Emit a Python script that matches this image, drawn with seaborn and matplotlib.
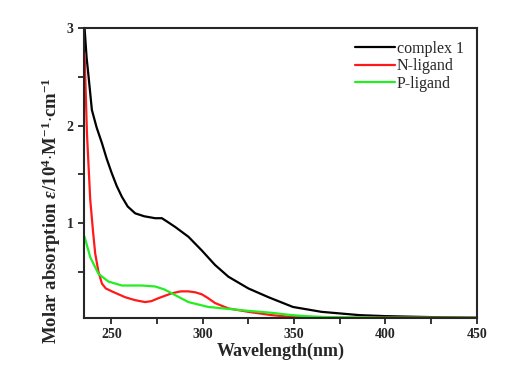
import pandas as pd
import seaborn as sns
import matplotlib.pyplot as plt
from matplotlib.ticker import MultipleLocator

# complex 1
wl_c = [235.4, 236.5, 237.6, 239.4, 242, 244.9, 247.5, 250.3, 253, 255.8, 259, 263.1, 268, 274, 277.7,
        281, 285, 292.2, 299.5, 306.8, 314.1, 325, 336, 349.4, 365, 386, 400, 425, 450]
abs_c = [3.0, 2.7, 2.5, 2.16, 1.98, 1.82, 1.66, 1.51, 1.38, 1.27, 1.17, 1.10, 1.07, 1.05, 1.05,
         1.01, 0.96, 0.86, 0.72, 0.57, 0.45, 0.33, 0.24, 0.14, 0.09, 0.056, 0.046, 0.036, 0.03]

# N-ligand
wl_n = [235.4, 236.7, 238.5, 240, 241.2, 243, 244.9, 247, 250.3, 257.6, 263, 268.5, 272, 275.8, 283.1,
        288, 292.2, 296, 299.5, 303, 306.8, 314.1, 325, 337.8, 350, 375, 400, 450]
abs_n = [2.74, 1.92, 1.24, 0.92, 0.69, 0.50, 0.38, 0.33, 0.30, 0.24, 0.21, 0.19, 0.20, 0.23, 0.28,
         0.30, 0.30, 0.29, 0.27, 0.23, 0.18, 0.125, 0.09, 0.056, 0.035, 0.03, 0.03, 0.03]

# P-ligand
wl_p = [235.4, 238.5, 243, 248.5, 255.8, 266.7, 274, 279, 283.1, 292.2, 303.1, 314.1, 325, 337.8,
        349, 360, 370, 400, 450]
abs_p = [0.86, 0.65, 0.48, 0.40, 0.36, 0.36, 0.35, 0.32, 0.28, 0.19, 0.14, 0.12, 0.10, 0.08,
         0.056, 0.042, 0.035, 0.03, 0.03]

labels = ['complex 1', 'N-ligand', 'P-ligand']
colors = ['#000000', '#ff1a1a', '#22ee22']

df = pd.concat([
    pd.DataFrame({'wl': wl_c, 'abs': abs_c, 'sample': labels[0]}),
    pd.DataFrame({'wl': wl_n, 'abs': abs_n, 'sample': labels[1]}),
    pd.DataFrame({'wl': wl_p, 'abs': abs_p, 'sample': labels[2]}),
])

sns.set_style('ticks')
plt.rcParams['font.family'] = ['Liberation Serif', 'DejaVu Serif']
plt.rcParams['mathtext.fontset'] = 'custom'
plt.rcParams['mathtext.rm'] = 'Liberation Serif:bold'
plt.rcParams['mathtext.it'] = 'Liberation Serif:italic:bold'
plt.rcParams['mathtext.bf'] = 'Liberation Serif:bold'

fig = plt.figure(figsize=(5.24, 3.69), dpi=100)
ax = fig.add_axes([0.160, 0.138, 0.750, 0.786])
sns.lineplot(data=df, x='wl', y='abs', hue='sample', palette=dict(zip(labels, colors)),
             linewidth=1.6, sort=False, ax=ax)

ax.set_xlim(235, 450)
ax.set_ylim(0.026, 3)
ax.xaxis.set_major_locator(MultipleLocator(50))
ax.xaxis.set_minor_locator(MultipleLocator(25))
ax.set_yticks([1, 2, 3])
ax.set_yticks([0.5, 1.5, 2.5], minor=True)
ax.tick_params(which='both', direction='out', width=1.3, length=4, labelsize=10)
for lab in ax.get_xticklabels() + ax.get_yticklabels():
    lab.set_fontweight('bold')
for s in ax.spines.values():
    s.set_linewidth(1.5)
    s.set_visible(True)

ax.set_xlabel('Wavelength(nm)', fontsize=13, fontweight='bold', labelpad=1)
ax.set_ylabel(r'Molar absorption $\mathit{\varepsilon}$/10$^{4}$$\cdot$M$^{-1}$$\cdot$cm$^{-1}$',
              fontsize=13.5, fontweight='bold')
ax.yaxis.set_label_coords(-0.052, 0.37)

leg = ax.legend(loc='upper right', frameon=False, fontsize=11.5, handlelength=2.5,
                handletextpad=0.15, labelspacing=0.1, borderaxespad=0.4)
leg.set_title(None)

plt.savefig('out.png', dpi=100)
